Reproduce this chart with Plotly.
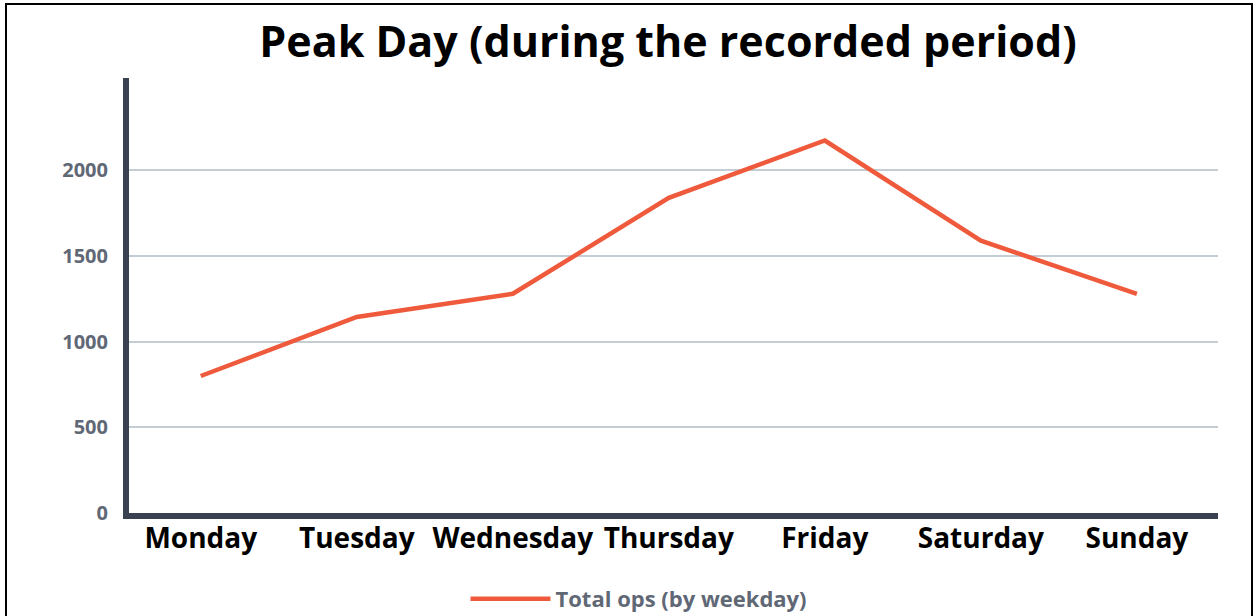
import plotly.graph_objects as go

days = ["Monday", "Tuesday", "Wednesday", "Thursday", "Friday", "Saturday", "Sunday"]
total_ops = [800, 1145, 1280, 1840, 2175, 1590, 1280]
y_tickvals = [0, 500, 1000, 1500, 2000, 2540]
y_ticktext = ["0", "500", "1000", "1500", "2000", ""]

W, H = 1257, 616
L, R, T, B = 129, 39, 78, 103
pw, ph = W - L - R, H - T - B

fig = go.Figure()
fig.add_trace(go.Scatter(
    x=days, y=total_ops, mode="lines", name="Total ops (by weekday)",
    line=dict(color="#f05a3c", width=4.5),
))

fig.update_layout(
    width=W, height=H,
    margin=dict(l=L, r=R, t=T, b=B, autoexpand=False),
    paper_bgcolor="white", plot_bgcolor="white",
    title=dict(text="<b>Peak Day (during the recorded period)</b>",
               x=668 / W, xref="container", xanchor="center",
               y=1 - 42 / H, yref="container", yanchor="middle",
               font=dict(family="Open Sans", size=43, color="black")),
    showlegend=True,
    legend=dict(orientation="h", x=639 / W, xref="container", xanchor="center",
                y=1 - 599 / H, yref="container", yanchor="middle",
                bgcolor="rgba(0,0,0,0)",
                font=dict(family="Open Sans", size=22, color="#606876", weight="bold"),
                itemwidth=80),
    xaxis=dict(range=[-0.46, 6.52], showgrid=False, showline=True,
               linecolor="#3a4252", linewidth=6, ticks="",
               tickfont=dict(family="Open Sans", size=28, color="black", weight="bold"),
               ticklabelstandoff=-5),
    yaxis=dict(range=[0, 2540], tickvals=y_tickvals, ticktext=y_ticktext,
               showgrid=True, gridcolor="#c4ccd4", gridwidth=2,
               zeroline=False, showline=True, linecolor="#3a4252", linewidth=6,
               ticks="", ticklabelstandoff=11,
               tickfont=dict(family="Open Sans", size=20, color="#606876", weight="bold")),
)

fig.add_shape(type="rect", xref="paper", yref="paper",
              x0=(6 - L) / pw, x1=(1252 - L) / pw,
              y0=-(620 - (T + ph)) / ph, y1=((T + ph) - 4) / ph,
              line=dict(color="black", width=2), fillcolor="rgba(0,0,0,0)", layer="above")

fig.write_html("out.html", config={"displayModeBar": False},
               post_script="document.body.style.margin='0';document.body.style.overflow='hidden';")
